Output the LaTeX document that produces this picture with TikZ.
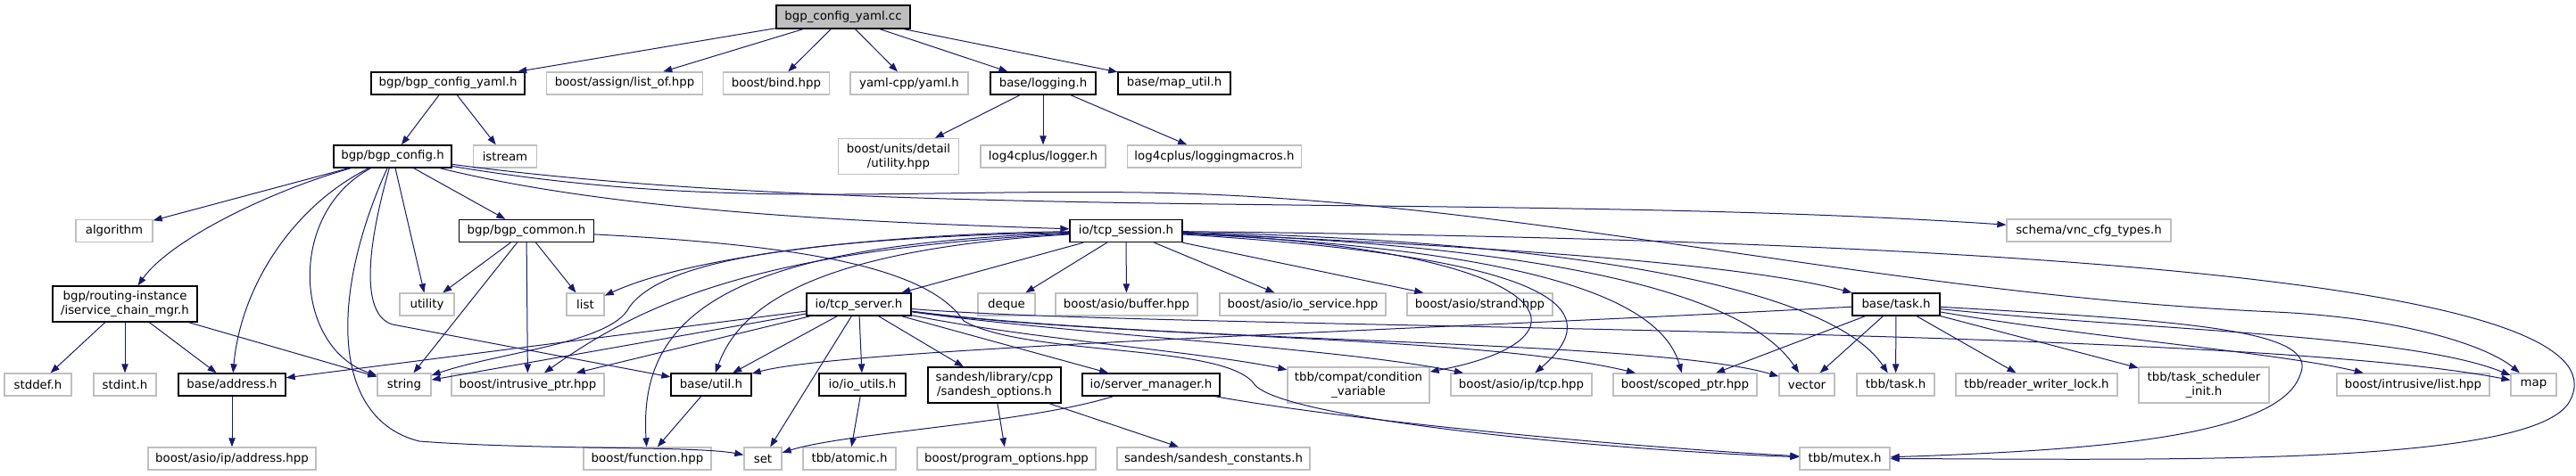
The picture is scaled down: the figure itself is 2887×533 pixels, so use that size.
\documentclass[tikz,border=0pt]{standalone}
\usepackage{fontspec}
\setmainfont{DejaVu Sans}
\usetikzlibrary{arrows.meta}

\definecolor{edgeblue}{HTML}{191970}
\definecolor{boxgray}{HTML}{BFBFBF}

\tikzset{
  file/.style={rectangle, inner sep=0pt, align=center, minimum height=18.75pt,
    font=\fontsize{10}{12}\selectfont, line width=1pt},
  inc/.style={file, draw=black},
  ext/.style={file, draw=boxgray},
  bw/.style={minimum width=#1*0.75pt},
  tall/.style={minimum height=30pt},
  dep/.style={draw=edgeblue, line width=0.75pt, -{Triangle[length=7.5pt,width=5.5pt]}},
}

\begin{document}
\begin{tikzpicture}[x=0.75pt, y=-0.75pt]
  \path[use as bounding box, fill=white] (0,0) rectangle (2887,533);

  % the source file and what it includes
  \node[inc, bw=150, fill=boxgray, minimum height=19.5pt] (cc) at (945,19) {bgp\_config\_yaml.cc};
  \node[inc, bw=172] (cfgyaml) at (502,93.5) {bgp/bgp\_config\_yaml.h};
  \node[ext, bw=175] (listof) at (700,93.5) {boost/assign/list\_of.hpp};
  \node[ext, bw=119] (bind) at (870,93.5) {boost/bind.hpp};
  \node[ext, bw=132] (yamlcpp) at (1019,93.5) {yaml-cpp/yaml.h};
  \node[inc, bw=118] (logging) at (1169,93.5) {base/logging.h};
  \node[inc, bw=126] (maputil) at (1316,93.5) {base/map\_util.h};

  % second level
  \node[inc, bw=132] (bgpconfig) at (440,175.5) {bgp/bgp\_config.h};
  \node[ext, bw=71] (istream) at (566,175.5) {istream};
  \node[ext, bw=135, tall] (unitsutil) at (1007,175.5) {boost/units/detail\\/utility.hpp};
  \node[ext, bw=140] (logger) at (1169,175.5) {log4cplus/logger.h};
  \node[ext, bw=195] (logmacros) at (1361,175.5) {log4cplus/loggingmacros.h};

  % third level
  \node[ext, bw=86] (algorithm) at (128,259) {algorithm};
  \node[inc, bw=151] (bgpcommon) at (590,259) {bgp/bgp\_common.h};
  \node[inc, bw=126] (tcpsession) at (1262,259) {io/tcp\_session.h};
  \node[ext, bw=184] (vnccfg) at (2341,258.5) {schema/vnc\_cfg\_types.h};

  % fourth level
  \node[inc, bw=162, tall] (iservice) at (140,341) {bgp/routing-instance\\/iservice\_chain\_mgr.h};
  \node[ext, bw=61] (utility) at (478.5,341.5) {utility};
  \node[ext, bw=42] (list) at (656,341.5) {list};
  \node[inc, bw=117] (tcpserver) at (962.5,341.5) {io/tcp\_server.h};
  \node[ext, bw=64] (deque) at (1128,341.5) {deque};
  \node[ext, bw=159] (buffer) at (1262.5,341.5) {boost/asio/buffer.hpp};
  \node[ext, bw=186] (ioservice) at (1460,341.5) {boost/asio/io\_service.hpp};
  \node[ext, bw=163] (strand) at (1658.5,341.5) {boost/asio/strand.hpp};
  \node[inc, bw=98] (basetask) at (2125,341.5) {base/task.h};

  % fifth level
  \node[ext, bw=75] (stddef) at (42.5,431.5) {stddef.h};
  \node[ext, bw=70] (stdint) at (140,431.5) {stdint.h};
  \node[inc, bw=120] (address) at (260,431.5) {base/address.h};
  \node[ext, bw=60] (string) at (453,431.5) {string};
  \node[ext, bw=171] (intrusiveptr) at (591.5,431.5) {boost/intrusive\_ptr.hpp};
  \node[inc, bw=90] (util) at (797,431.5) {base/util.h};
  \node[inc, bw=97] (ioutils) at (966.5,431.5) {io/io\_utils.h};
  \node[inc, bw=149, tall] (sandeshopts) at (1114.5,432) {sandesh/library/cpp\\/sandesh\_options.h};
  \node[inc, bw=154] (servermgr) at (1290,431.5) {io/server\_manager.h};
  \node[ext, bw=159, tall] (condvar) at (1522.5,432) {tbb/compat/condition\\\_variable};
  \node[ext, bw=158] (tcphpp) at (1705,431.5) {boost/asio/ip/tcp.hpp};
  \node[ext, bw=161] (scopedptr) at (1888.5,431.5) {boost/scoped\_ptr.hpp};
  \node[ext, bw=62] (vector) at (2025,431.5) {vector};
  \node[ext, bw=87] (tbbtask) at (2124.5,431.5) {tbb/task.h};
  \node[ext, bw=181] (rwlock) at (2282.5,431.5) {tbb/reader\_writer\_lock.h};
  \node[ext, bw=146, tall] (schedinit) at (2470,432) {tbb/task\_scheduler\\\_init.h};
  \node[ext, bw=171] (intrusivelist) at (2704.5,431.5) {boost/intrusive/list.hpp};
  \node[ext, bw=51] (map) at (2839.5,431.5) {map};

  % bottom level
  \node[ext, bw=188] (asioaddr) at (260,514.5) {boost/asio/ip/address.hpp};
  \node[ext, bw=143] (function) at (725.5,514.5) {boost/function.hpp};
  \node[ext, bw=42] (set) at (855,514.5) {set};
  \node[ext, bw=104] (atomic) at (952,514.5) {tbb/atomic.h};
  \node[ext, bw=200] (progopts) at (1128,514.5) {boost/program\_options.hpp};
  \node[ext, bw=216] (sandeshconst) at (1360,514.5) {sandesh/sandesh\_constants.h};
  \node[ext, bw=101] (mutex) at (2067.5,514.5) {tbb/mutex.h};

  % straight includes
  \foreach \a/\b in {cc/cfgyaml, cc/listof, cc/bind, cc/yamlcpp, cc/logging, cc/maputil,
      cfgyaml/bgpconfig, cfgyaml/istream, logging/unitsutil, logging/logger, logging/logmacros,
      bgpconfig/algorithm, bgpconfig/utility, bgpconfig/bgpcommon,
      bgpcommon/utility, bgpcommon/string, bgpcommon/intrusiveptr, bgpcommon/list,
      iservice/stddef, iservice/stdint, iservice/address, iservice/string,
      tcpsession/tcpserver, tcpsession/deque, tcpsession/buffer, tcpsession/ioservice, tcpsession/strand,
      tcpserver/address, tcpserver/string, tcpserver/intrusiveptr, tcpserver/util, tcpserver/set,
      tcpserver/ioutils, tcpserver/sandeshopts, tcpserver/servermgr,
      address/asioaddr, util/function, ioutils/atomic, sandeshopts/progopts, sandeshopts/sandeshconst,
      basetask/scopedptr, basetask/vector, basetask/tbbtask, basetask/rwlock, basetask/schedinit}
    \draw[dep] (\a) -- (\b);

  % bgp/bgp_config.h
  \draw[dep] (bgpconfig) .. controls (300,215) and (190,270) .. (iservice);
  \draw[dep] (bgpconfig) .. controls (330,230) and (270,320) .. (address);
  \draw[dep] (bgpconfig) .. controls (320,240) and (330,390) .. (string);
  \draw[dep] (bgpconfig) .. controls (370,330) and (370,470) .. (470,495)
    .. controls (600,505) and (780,500) .. (set);
  \draw[dep] (bgpconfig) .. controls (405,300) and (410,355) .. (440,364) -- (util);
  \draw[dep] (bgpconfig) .. controls (700,240) and (1000,250) .. (tcpsession);
  \draw[dep] (bgpconfig) .. controls (1000,250) and (1700,215) .. (vnccfg);
  \draw[dep] (bgpconfig) .. controls (800,235) and (1000,212) .. (1280,216)
    .. controls (1700,222) and (2100,330) .. (2550,350)
    .. controls (2700,357) and (2790,390) .. (map);
  \draw[dep] (bgpcommon) .. controls (900,275) and (1040,300) .. (1080,360)
    .. controls (1150,400) and (1370,385) .. (1405,430)
    .. controls (1430,470) and (1800,505) .. (mutex);

  % io/tcp_session.h
  \draw[dep] (tcpsession) .. controls (1000,262) and (780,285) .. (list);
  \draw[dep] (tcpsession) .. controls (880,268) and (740,295) .. (705,345)
    .. controls (685,385) and (560,395) .. (string);
  \draw[dep] (tcpsession) .. controls (850,280) and (720,340) .. (intrusiveptr);
  \draw[dep] (tcpsession) .. controls (920,280) and (830,340) .. (util);
  \draw[dep] (tcpsession) .. controls (820,275) and (715,350) .. (function);
  \draw[dep] (tcpsession) .. controls (1750,280) and (1800,380) .. (condvar);
  \draw[dep] (tcpsession) .. controls (1760,290) and (1800,350) .. (tcphpp);
  \draw[dep] (tcpsession) .. controls (1700,280) and (1860,330) .. (scopedptr);
  \draw[dep] (tcpsession) .. controls (1700,275) and (1950,320) .. (vector);
  \draw[dep] (tcpsession) .. controls (1750,270) and (2050,320) .. (tbbtask);
  \draw[dep] (tcpsession) .. controls (1650,275) and (1950,295) .. (basetask);
  \draw[dep] (tcpsession) .. controls (2300,270) and (2950,320) .. (2880,450)
    .. controls (2840,525) and (2400,515) .. (mutex);

  % io/tcp_server.h and io/server_manager.h
  \draw[dep] (tcpserver) .. controls (1150,380) and (1350,395) .. (condvar);
  \draw[dep] (tcpserver) .. controls (1200,375) and (1500,390) .. (tcphpp);
  \draw[dep] (tcpserver) .. controls (1250,380) and (1650,375) .. (scopedptr);
  \draw[dep] (tcpserver) .. controls (1300,385) and (1850,380) .. (vector);
  \draw[dep] (tcpserver) .. controls (1300,370) and (2500,365) .. (map);
  \draw[dep] (servermgr) .. controls (1150,475) and (950,485) .. (set);
  \draw[dep] (servermgr) .. controls (1500,470) and (1800,500) .. (mutex);

  % base/task.h
  \draw[dep] (basetask) .. controls (1600,370) and (950,390) .. (util);
  \draw[dep] (basetask) .. controls (2350,380) and (2550,395) .. (intrusivelist);
  \draw[dep] (basetask) .. controls (2400,370) and (2700,375) .. (map);
  \draw[dep] (basetask) .. controls (2450,360) and (2600,370) .. (2578,420)
    .. controls (2555,490) and (2350,505) .. (mutex);
\end{tikzpicture}
\end{document}
